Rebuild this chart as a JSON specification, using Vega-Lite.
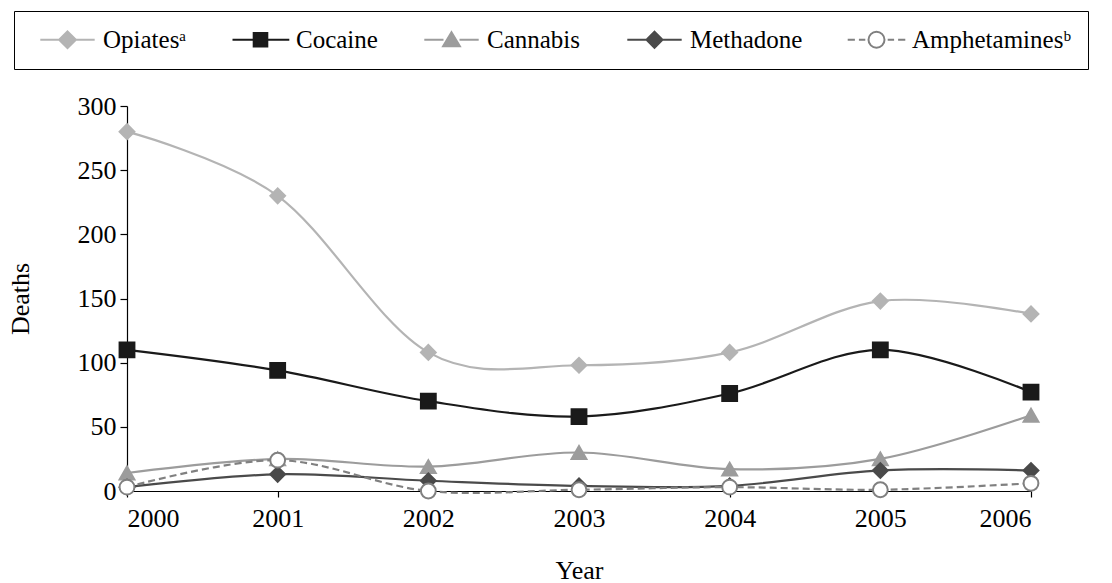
{
  "$schema": "https://vega.github.io/schema/vega-lite/v6.json",
  "width": 904,
  "height": 385,
  "autosize": {"type": "none"},
  "padding": {"left": 127, "top": 106, "right": 81, "bottom": 92},
  "background": "white",
  "config": {
    "view": {"stroke": null},
    "font": "Liberation Serif",
    "style": {"guide-label": {"font": "Liberation Serif", "fontSize": 25, "fill": "black"}},
    "legend": {"labelFont": "Liberation Serif", "labelFontSize": 25, "labelColor": "black", "labelLimit": 400}
  },
  "data": {
    "values": [
      {"year": 2000, "drug": "Opiates", "deaths": 280},
      {"year": 2001, "drug": "Opiates", "deaths": 230},
      {"year": 2002, "drug": "Opiates", "deaths": 108},
      {"year": 2003, "drug": "Opiates", "deaths": 98},
      {"year": 2004, "drug": "Opiates", "deaths": 108},
      {"year": 2005, "drug": "Opiates", "deaths": 148},
      {"year": 2006, "drug": "Opiates", "deaths": 138},
      {"year": 2000, "drug": "Cocaine", "deaths": 110},
      {"year": 2001, "drug": "Cocaine", "deaths": 94},
      {"year": 2002, "drug": "Cocaine", "deaths": 70},
      {"year": 2003, "drug": "Cocaine", "deaths": 58},
      {"year": 2004, "drug": "Cocaine", "deaths": 76},
      {"year": 2005, "drug": "Cocaine", "deaths": 110},
      {"year": 2006, "drug": "Cocaine", "deaths": 77},
      {"year": 2000, "drug": "Cannabis", "deaths": 14},
      {"year": 2001, "drug": "Cannabis", "deaths": 25},
      {"year": 2002, "drug": "Cannabis", "deaths": 19},
      {"year": 2003, "drug": "Cannabis", "deaths": 30},
      {"year": 2004, "drug": "Cannabis", "deaths": 17},
      {"year": 2005, "drug": "Cannabis", "deaths": 25},
      {"year": 2006, "drug": "Cannabis", "deaths": 59},
      {"year": 2000, "drug": "Methadone", "deaths": 3},
      {"year": 2001, "drug": "Methadone", "deaths": 13},
      {"year": 2002, "drug": "Methadone", "deaths": 8},
      {"year": 2003, "drug": "Methadone", "deaths": 4},
      {"year": 2004, "drug": "Methadone", "deaths": 4},
      {"year": 2005, "drug": "Methadone", "deaths": 16},
      {"year": 2006, "drug": "Methadone", "deaths": 16},
      {"year": 2000, "drug": "Amphetamines", "deaths": 3},
      {"year": 2001, "drug": "Amphetamines", "deaths": 24},
      {"year": 2002, "drug": "Amphetamines", "deaths": 0},
      {"year": 2003, "drug": "Amphetamines", "deaths": 1},
      {"year": 2004, "drug": "Amphetamines", "deaths": 3},
      {"year": 2005, "drug": "Amphetamines", "deaths": 1},
      {"year": 2006, "drug": "Amphetamines", "deaths": 6}
    ]
  },
  "encoding": {
    "x": {"field": "year", "type": "quantitative", "scale": {"domain": [2000, 2006], "nice": false, "zero": false}, "axis": {"values": [2000, 2001, 2002, 2003, 2004, 2005, 2006], "format": "d", "title": "Year", "grid": false, "labelFont": "Liberation Serif", "titleFont": "Liberation Serif", "labelFontSize": 26, "titleFontSize": 26, "titleFontWeight": "normal", "labelColor": "black", "titleColor": "black", "domainColor": "black", "tickColor": "black", "domainWidth": 1.2, "tickWidth": 1.2, "tickSize": 6, "labelPadding": 8, "titlePadding": 26}},
    "y": {"field": "deaths", "type": "quantitative", "scale": {"domain": [0, 300], "nice": false}, "axis": {"values": [0, 50, 100, 150, 200, 250, 300], "title": "Deaths", "grid": false, "labelFont": "Liberation Serif", "titleFont": "Liberation Serif", "labelFontSize": 26, "titleFontSize": 26, "titleFontWeight": "normal", "labelColor": "black", "titleColor": "black", "domainColor": "black", "tickColor": "black", "domainWidth": 1.2, "tickWidth": 1.2, "tickSize": 7, "labelPadding": 4, "titlePadding": 44}}
  },
  "resolve": {"scale": {"shape": "independent", "fill": "independent", "stroke": "independent"}},
  "layer": [
    {
      "transform": [{"filter": "datum.drug != 'Amphetamines'"}],
      "mark": {"type": "line", "interpolate": "cardinal", "tension": 0, "strokeWidth": 2.2},
      "encoding": {
        "stroke": {"field": "drug", "type": "nominal", "scale": {"domain": ["Opiates", "Cocaine", "Cannabis", "Methadone"], "range": ["#b4b4b4", "#1a1a1a", "#9c9c9c", "#4a4a4a"]}, "legend": null}
      }
    },
    {
      "transform": [{"filter": "datum.drug == 'Amphetamines'"}],
      "mark": {"type": "line", "interpolate": "cardinal", "tension": 0, "strokeWidth": 2.2, "strokeDash": [7, 4], "stroke": "#808080"},
      "encoding": {"detail": {"field": "drug"}}
    },
    {
      "mark": {"type": "point", "filled": false, "strokeWidth": 2, "opacity": 1, "size": 220},
      "encoding": {
        "shape": {"field": "drug", "type": "nominal", "scale": {"domain": ["Opiates", "Cocaine", "Cannabis", "Methadone", "Amphetamines"], "range": ["diamond", "square", "triangle-up", "diamond", "circle"]}, "legend": null},
        "fill": {"field": "drug", "type": "nominal", "scale": {"domain": ["Opiates", "Cocaine", "Cannabis", "Methadone", "Amphetamines"], "range": ["#b4b4b4", "#1a1a1a", "#9c9c9c", "#4a4a4a", "#ffffff"]}, "legend": null},
        "stroke": {"field": "drug", "type": "nominal", "scale": {"domain": ["Opiates", "Cocaine", "Cannabis", "Methadone", "Amphetamines"], "range": ["#b4b4b4", "#1a1a1a", "#9c9c9c", "#4a4a4a", "#808080"]}, "legend": null}
      }
    },
    {
      "transform": [{"filter": "datum.year < 0"}],
      "mark": {"type": "point", "filled": false, "strokeWidth": 2, "opacity": 1, "size": 256},
      "encoding": {
        "shape": {"field": "drug", "type": "nominal",
          "scale": {"domain": ["Opiates", "Cocaine", "Cannabis", "Methadone", "Amphetamines"],
            "range": [
              "M-3.4,0H-1.1M1.1,0H3.4M0,-1.05L1.05,0L0,1.05L-1.05,0Z",
              "M-3.5,0H-0.85M0.85,0H3.6M-0.85,-0.85H0.85V0.85H-0.85Z",
              "M-3.4,0H-1M1,0H3.4M0,-0.95L1.05,0.8L-1.05,0.8Z",
              "M-3.4,0H-1M1,0H3.4M0,-1L1,0L0,1L-1,0Z",
              "M-3.6,0H-2.7M-2.2,0H-1.4M1.4,0H2.2M2.7,0H3.6M-1,0A1,1 0 1,1 1,0A1,1 0 1,1 -1,0Z"
            ]},
          "legend": {
            "title": null, "orient": "none", "legendX": -113, "legendY": -95, "direction": "horizontal", "columns": 5,
            "strokeColor": "black", "padding": 16, "columnPadding": 36,
            "labelFont": "Liberation Serif", "labelFontSize": 25, "labelColor": "black", "labelLimit": 400, "labelOffset": 23,
            "symbolSize": 256, "symbolStrokeWidth": 2, "symbolOffset": 25, "symbolOpacity": 1, "symbolFillColor": "white",
            "labelExpr": "datum.value == 'Opiates' ? 'Opiatesᵃ' : datum.value == 'Amphetamines' ? 'Amphetaminesᵇ' : datum.value"
          }
        },
        "fill": {"field": "drug", "type": "nominal", "scale": {"domain": ["Opiates", "Cocaine", "Cannabis", "Methadone", "Amphetamines"], "range": ["#b4b4b4", "#1a1a1a", "#9c9c9c", "#4a4a4a", "#ffffff"]}},
        "stroke": {"field": "drug", "type": "nominal", "scale": {"domain": ["Opiates", "Cocaine", "Cannabis", "Methadone", "Amphetamines"], "range": ["#b4b4b4", "#1a1a1a", "#9c9c9c", "#4a4a4a", "#808080"]}}
      }
    }
  ]
}
